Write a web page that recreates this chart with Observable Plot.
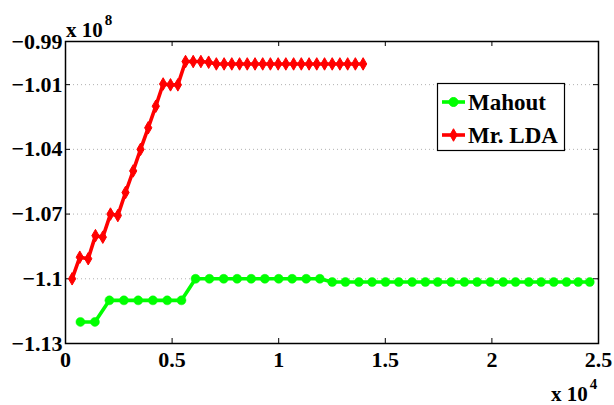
<!DOCTYPE html>
<html>
<head>
<meta charset="utf-8">
<script src="https://cdn.jsdelivr.net/npm/d3@7"></script>
<script src="https://cdn.jsdelivr.net/npm/@observablehq/plot@0.6"></script>
<style>
  html, body { margin: 0; padding: 0; background: #fff; }
  #chart svg { display: block; }
</style>
</head>
<body>
<div id="chart"></div>
<script>
// ---- data (x in raw units, shown ×10^4; y in units of 10^8) ----
const xTicks = [0, 5000, 10000, 15000, 20000, 25000];
const yTicks = [-1.13, -1.1, -1.07, -1.04, -1.01, -0.99];
const gridY = [-1.1, -1.07, -1.04, -1.01];
const seriesNames = ["Mahout", "Mr. LDA"];

const mahoutX = [700, 1380, 2060, 2740, 3410, 4100, 4770, 5440,
  6100, 6750, 7420, 8050, 8710, 9350, 10000, 10630, 11290, 11930,
  12510, 13130, 13760, 14380, 15010, 15630, 16260, 16880, 17460, 18090,
  18710, 19310, 19930, 20530, 21110, 21730, 22310, 22900, 23500, 24050, 24590];
const mahoutY = [-1.12, -1.12, -1.11, -1.11, -1.11, -1.11, -1.11, -1.11,
  -1.1, -1.1, -1.1, -1.1, -1.1, -1.1, -1.1, -1.1, -1.1, -1.1,
  -1.1015, -1.1015, -1.1015, -1.1015, -1.1015, -1.1015, -1.1015, -1.1015, -1.1015, -1.1015,
  -1.1015, -1.1015, -1.1015, -1.1015, -1.1015, -1.1015, -1.1015, -1.1015, -1.1015, -1.1015, -1.1015];

const ldaX = [310, 670, 1065, 1405, 1750, 2110, 2455, 2815, 3175, 3520,
  3880, 4235, 4580, 4925, 5270, 5630, 5990, 6350, 6715, 7075,
  7440, 7800, 8165, 8525, 8890, 9250, 9610, 9975, 10335, 10700,
  11060, 11425, 11785, 12150, 12510, 12870, 13235, 13595, 13960];
const ldaY = [-1.1, -1.09, -1.0907, -1.08, -1.0807, -1.07, -1.0707, -1.06, -1.05, -1.04,
  -1.03, -1.02, -1.0097, -1.0101, -1.0101, -0.9993, -0.9993, -0.9993, -0.9996, -1.0004,
  -1.0004, -1.0004, -1.0004, -1.0004, -1.0004, -1.0004, -1.0004, -1.0004, -1.0004, -1.0004,
  -1.0004, -1.0004, -1.0004, -1.0004, -1.0004, -1.0004, -1.0004, -1.0004, -1.0004];

const mahout = mahoutX.map((x, i) => ({x, y: mahoutY[i]}));
const lda = ldaX.map((x, i) => ({x, y: ldaY[i]}));

const W = 614, H = 405;
const mL = 65, mR = 16, mT = 41, mB = 62;
const pw = W - mL - mR, ph = H - mT - mB;
const green = "#00ff00", red = "#ff0000";
const font = '"Liberation Serif", "Times New Roman", Times, serif';

const chart = Plot.plot({
  width: W, height: H,
  marginLeft: mL, marginRight: mR, marginTop: mT, marginBottom: mB,
  style: {fontFamily: font, fontWeight: "bold", fontSize: "22px", background: "#fff", color: "#000", overflow: "visible"},
  x: {domain: [0, 25000]},
  y: {domain: [-1.13, -0.99]},
  marks: [
    Plot.ruleY(gridY, {stroke: "#b0b0b0", strokeWidth: 1, strokeDasharray: "1,3"}),
    // inward ticks
    Plot.tickY(yTicks, {y: d => d, stroke: "#000", strokeWidth: 1, insetRight: pw - 5}),
    Plot.tickY(yTicks, {y: d => d, stroke: "#000", strokeWidth: 1, insetLeft: pw - 5}),
    Plot.tickX(xTicks, {x: d => d, stroke: "#000", strokeWidth: 1, insetTop: ph - 5}),
    Plot.tickX(xTicks, {x: d => d, stroke: "#000", strokeWidth: 1, insetBottom: ph - 5}),
    Plot.axisY({ticks: yTicks, tickSize: 0, tickPadding: 3, tickFormat: d3.format(""), fontSize: 22, label: null}),
    Plot.axisX({ticks: xTicks, tickSize: 0, tickPadding: 8, tickFormat: d => String(d / 1e4), fontSize: 22, label: null}),
    Plot.line(mahout, {x: "x", y: "y", stroke: green, strokeWidth: 3.6}),
    Plot.dot(mahout, {x: "x", y: "y", r: 4.5, fill: green, stroke: green, strokeWidth: 0.5}),
    Plot.line(lda, {x: "x", y: "y", stroke: red, strokeWidth: 3.6}),
    Plot.dot(lda, {x: "x", y: "y", r: 3.8, symbol: "diamond", fill: red, stroke: red, strokeWidth: 1}),
    Plot.frame({stroke: "#000", strokeWidth: 1.5})
  ]
});
document.getElementById("chart").appendChild(chart);

// exponent annotations and legend
const svg = d3.select(chart);
function expLabel(x, y, base, exp) {
  const t = svg.append("text").attr("x", x).attr("y", y).attr("text-anchor", "start")
    .attr("font-size", 21);
  t.append("tspan").text(base);
  t.append("tspan").attr("font-size", 15).attr("dy", -12).attr("dx", 2).text(exp);
}
expLabel(66, 37, "x 10", "8");
expLabel(551, 401, "x 10", "4");

const lg = svg.append("g");
lg.append("rect").attr("x", 437.5).attr("y", 83.5).attr("width", 127).attr("height", 67)
  .attr("fill", "#fff").attr("stroke", "#000").attr("stroke-width", 1.2);
const entries = [
  {name: seriesNames[0], color: green, sym: d3.symbolCircle, size: Math.PI * 4.5 * 4.5, cy: 102},
  {name: seriesNames[1], color: red, sym: d3.symbolDiamond, size: Math.PI * 3.8 * 3.8, cy: 135}
];
for (const e of entries) {
  lg.append("line").attr("x1", 442).attr("x2", 465).attr("y1", e.cy).attr("y2", e.cy)
    .attr("stroke", e.color).attr("stroke-width", 3.6);
  lg.append("path").attr("d", d3.symbol(e.sym, e.size)()).attr("transform", `translate(453.5,${e.cy})`)
    .attr("fill", e.color).attr("stroke", e.color).attr("stroke-width", 1);
  lg.append("text").attr("x", 468).attr("y", e.cy + 7.5).attr("text-anchor", "start")
    .attr("font-size", 23).text(e.name);
}
// force the serif bold face on every text
svg.selectAll("text").style("font-family", font).style("font-weight", "bold").style("fill", "#000");
</script>
</body>
</html>
